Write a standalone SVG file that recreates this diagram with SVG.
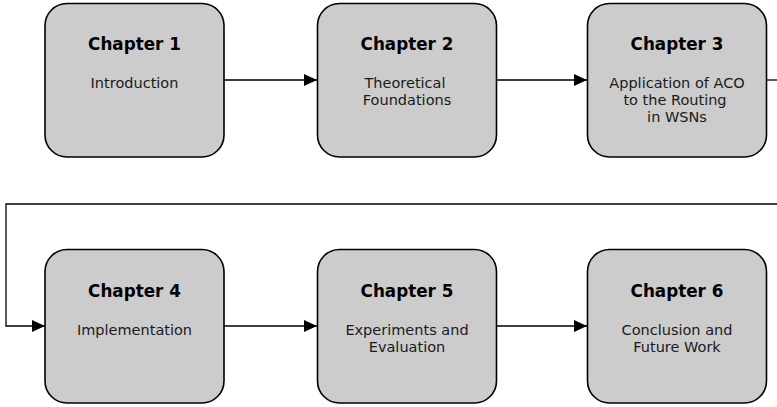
<svg xmlns="http://www.w3.org/2000/svg" width="777" height="407" viewBox="0 0 777 407">
  <defs>
    <marker id="arrow" viewBox="0 0 13 12" refX="13" refY="6" markerWidth="13" markerHeight="12" markerUnits="userSpaceOnUse" orient="auto">
      <path d="M0,0 L13,6 L0,12 Z" fill="#000"/>
    </marker>
    <style>
      .box { fill: #cccccc; stroke: #000; stroke-width: 1.6; }
      .title { font-family: "DejaVu Sans", sans-serif; font-weight: bold; font-size: 16.8px; fill: #000; text-anchor: middle; }
      .sub { font-family: "DejaVu Sans", sans-serif; font-size: 14.5px; fill: #1a1a1a; text-anchor: middle; }
      .link { fill: none; stroke: #000; stroke-width: 1.3; }
    </style>
  </defs>
  <rect width="777" height="407" fill="#fff"/>

  <g id="connectors">
    <path class="link" d="M224,80 L317,80" marker-end="url(#arrow)"/>
    <path class="link" d="M496,80 L587,80" marker-end="url(#arrow)"/>
    <path class="link" d="M767,80 L777,80"/>
    <path class="link" d="M777,204 L6,204 L6,326 L45,326" marker-end="url(#arrow)"/>
    <path class="link" d="M224,326 L317,326" marker-end="url(#arrow)"/>
    <path class="link" d="M496,326 L587,326" marker-end="url(#arrow)"/>
  </g>

  <g id="chapter1">
    <rect class="box" x="45" y="3.5" width="179" height="153.5" rx="22"/>
    <text class="title" x="134.5" y="50">Chapter 1</text>
    <text class="sub" x="134.5" y="88">Introduction</text>
  </g>

  <g id="chapter2">
    <rect class="box" x="317.5" y="3.5" width="179" height="153.5" rx="22"/>
    <text class="title" x="407" y="50">Chapter 2</text>
    <text class="sub" x="405" y="88">Theoretical</text>
    <text class="sub" x="407" y="105">Foundations</text>
  </g>

  <g id="chapter3">
    <rect class="box" x="587.5" y="3.5" width="179" height="153.5" rx="22"/>
    <text class="title" x="677" y="50">Chapter 3</text>
    <text class="sub" x="677" y="88">Application of ACO</text>
    <text class="sub" x="675" y="105">to the Routing</text>
    <text class="sub" x="677" y="122">in WSNs</text>
  </g>

  <g id="chapter4">
    <rect class="box" x="45" y="249.5" width="179" height="153.5" rx="22"/>
    <text class="title" x="134.5" y="297">Chapter 4</text>
    <text class="sub" x="134.5" y="335">Implementation</text>
  </g>

  <g id="chapter5">
    <rect class="box" x="317.5" y="249.5" width="179" height="153.5" rx="22"/>
    <text class="title" x="407" y="297">Chapter 5</text>
    <text class="sub" x="407" y="334.5">Experiments and</text>
    <text class="sub" x="407" y="351.5">Evaluation</text>
  </g>

  <g id="chapter6">
    <rect class="box" x="587.5" y="249.5" width="179" height="153.5" rx="22"/>
    <text class="title" x="677" y="297">Chapter 6</text>
    <text class="sub" x="677" y="334.5">Conclusion and</text>
    <text class="sub" x="677" y="351.5">Future Work</text>
  </g>
</svg>
